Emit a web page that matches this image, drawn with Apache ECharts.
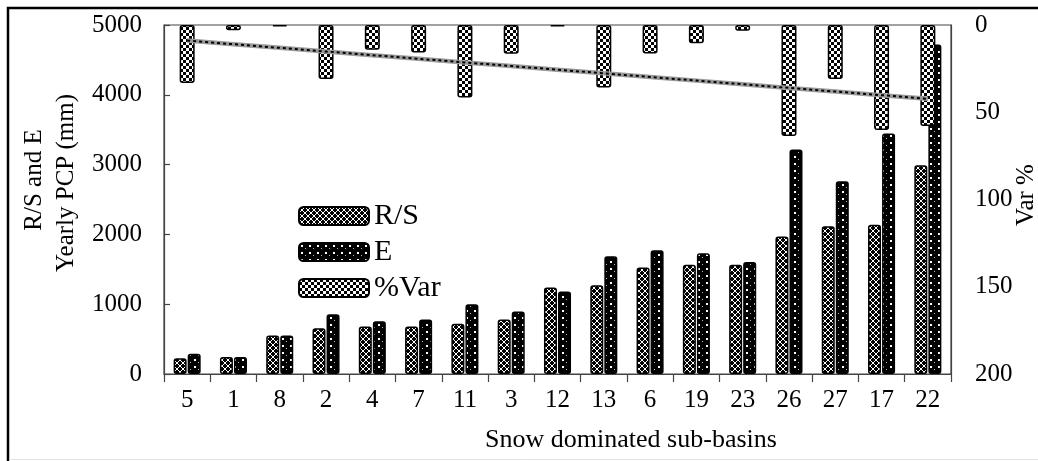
<!DOCTYPE html>
<html>
<head>
<meta charset="utf-8">
<script src="https://cdn.jsdelivr.net/npm/echarts@6/dist/echarts.min.js"></script>
<style>
  html, body { margin: 0; padding: 0; background: #fff; }
  #chart { width: 1038px; height: 461px; }
</style>
</head>
<body>
<div id="chart"></div>
<script>
// Sub-basins (snow dominated), in plotted order
const categories = ['5', '1', '8', '2', '4', '7', '11', '3', '12', '13', '6', '19', '23', '26', '27', '17', '22'];
// R/S (mm)
const rsValues = [225, 245, 550, 655, 680, 680, 720, 780, 1240, 1270, 1525, 1565, 1565, 1970, 2115, 2140, 2990];
// E (mm)
const eValues = [290, 245, 550, 855, 757, 780, 1000, 895, 1183, 1688, 1772, 1730, 1605, 3215, 2763, 3445, 4720];
// %Var (right axis, hanging from top)
const varValues = [33.3, 3, 0.8, 31, 14.2, 15.7, 41.6, 16.5, 0.8, 35.8, 16.3, 10.5, 3.3, 63.6, 31, 60.2, 57.9];

const leftTicks = { min: 0, max: 5000, interval: 1000 };
const rightTicks = { min: 0, max: 200, interval: 50 };

const FONT = 'Liberation Serif, Times New Roman, serif';

// Least-squares linear trend of %Var across the sub-basin order
function linearTrend(values) {
  const n = values.length;
  let sx = 0, sy = 0, sxx = 0, sxy = 0;
  values.forEach((y, x) => { sx += x; sy += y; sxx += x * x; sxy += x * y; });
  const slope = (n * sxy - sx * sy) / (n * sxx - sx * sx);
  const intercept = (sy - slope * sx) / n;
  return values.map((_, x) => +(intercept + slope * x).toFixed(3));
}
const varTrend = linearTrend(varValues);

// Monochrome fill patterns for the bars
function makeTile(w, h, draw) {
  const c = document.createElement('canvas');
  c.width = w; c.height = h;
  const g = c.getContext('2d');
  g.fillStyle = '#000';
  g.fillRect(0, 0, w, h);
  draw(g);
  return { image: c, repeat: 'repeat' };
}
// R/S: white diamond lattice on black
const rsPattern = makeTile(6, 6, g => {
  g.strokeStyle = '#fff';
  g.lineWidth = 1;
  g.beginPath();
  g.moveTo(0, 0); g.lineTo(6, 6);
  g.moveTo(6, 0); g.lineTo(0, 6);
  g.stroke();
});
// E: sparse white dots on black
const ePattern = makeTile(8, 7, g => {
  g.fillStyle = '#fff';
  g.fillRect(2, 2, 2, 2);
  g.fillStyle = '#bbb';
  g.fillRect(6, 5, 1, 1);
});
// %Var: checkerboard
const varPattern = makeTile(6, 6, g => {
  g.fillStyle = '#fff';
  g.fillRect(0, 0, 3, 3);
  g.fillRect(3, 3, 3, 3);
});

const barBorder = { borderColor: '#000', borderWidth: 1.5, borderRadius: 2 };

const chart = echarts.init(document.getElementById('chart'), null, { renderer: 'canvas' });

chart.setOption({
  animation: false,
  backgroundColor: '#fff',
  textStyle: { fontFamily: FONT, color: '#000' },
  grid: {
    left: 164, right: 87, top: 25, bottom: 87,
    show: true, borderColor: '#444', borderWidth: 1.2, backgroundColor: 'transparent'
  },
  legend: {
    data: ['R/S', 'E', '%Var'],
    orient: 'vertical',
    left: 298, top: 201,
    itemWidth: 70, itemHeight: 18, itemGap: 6,
    padding: 0,
    textStyle: { fontFamily: FONT, fontSize: 30, color: '#000', lineHeight: 30 }
  },
  xAxis: [
    {
      type: 'category', data: categories, position: 'bottom',
      axisLine: { lineStyle: { color: '#444', width: 1.2 } },
      axisTick: { show: true, length: 8, lineStyle: { color: '#444', width: 1.2 } },
      axisLabel: { fontFamily: FONT, fontSize: 25, color: '#000', margin: 14 }
    },
    {
      type: 'category', data: categories, show: false, gridIndex: 0
    }
  ],
  yAxis: [
    {
      type: 'value', position: 'left',
      min: leftTicks.min, max: leftTicks.max, interval: leftTicks.interval,
      axisLine: { show: true, lineStyle: { color: '#444', width: 1.2 } },
      axisTick: { show: true, inside: true, length: 6, lineStyle: { color: '#444', width: 1.2 } },
      axisLabel: { fontFamily: FONT, fontSize: 25, color: '#000', margin: 22, formatter: v => String(v) },
      splitLine: { show: false }
    },
    {
      type: 'value', position: 'right', inverse: true,
      min: rightTicks.min, max: rightTicks.max, interval: rightTicks.interval,
      axisLine: { show: true, lineStyle: { color: '#444', width: 1.2 } },
      axisTick: { show: false },
      axisLabel: { fontFamily: FONT, fontSize: 25, color: '#000', margin: 24, formatter: v => String(v) },
      splitLine: { show: false }
    }
  ],
  series: [
    {
      name: 'R/S', type: 'bar', xAxisIndex: 0, yAxisIndex: 0,
      data: rsValues, barWidth: 13, barGap: '8%',
      itemStyle: Object.assign({ color: rsPattern }, barBorder)
    },
    {
      name: 'E', type: 'bar', xAxisIndex: 0, yAxisIndex: 0,
      data: eValues, barWidth: 13, barGap: '8%',
      itemStyle: Object.assign({ color: ePattern }, barBorder)
    },
    {
      name: '%Var', type: 'bar', xAxisIndex: 1, yAxisIndex: 1,
      data: varValues, barWidth: 15, z: 3,
      itemStyle: Object.assign({ color: varPattern }, barBorder)
    },
    {
      name: 'trend-base', type: 'line', xAxisIndex: 1, yAxisIndex: 1,
      data: varTrend, symbol: 'none', z: 4, silent: true,
      lineStyle: { color: '#9a9a9a', width: 4.5 }
    },
    {
      name: 'trend-dash', type: 'line', xAxisIndex: 1, yAxisIndex: 1,
      data: varTrend, symbol: 'none', z: 5, silent: true,
      lineStyle: { color: '#000', width: 2, type: [3, 3] }
    }
  ],
  graphic: [
    {
      // outer frame: left and top edges visible, right and bottom run past the canvas
      type: 'polyline', silent: true,
      shape: { points: [[8, 470], [8, 8], [1045, 8]] },
      style: { fill: 'none', stroke: '#000', lineWidth: 2.5 }
    },
    {
      type: 'line', silent: true,
      shape: { x1: 9, y1: 459.5, x2: 1038, y2: 459.5 },
      style: { stroke: '#e2e2e2', lineWidth: 1 }
    },
    {
      type: 'text', x: 34, y: 180, rotation: Math.PI / 2, silent: true,
      style: { text: 'R/S and E', font: '25px ' + FONT, fill: '#000', textAlign: 'center', textVerticalAlign: 'middle' }
    },
    {
      type: 'text', x: 66, y: 183, rotation: Math.PI / 2, silent: true,
      style: { text: 'Yearly PCP (mm)', font: '25px ' + FONT, fill: '#000', textAlign: 'center', textVerticalAlign: 'middle' }
    },
    {
      type: 'text', x: 1026, y: 195, rotation: Math.PI / 2, silent: true,
      style: { text: 'Var %', font: '25px ' + FONT, fill: '#000', textAlign: 'center', textVerticalAlign: 'middle' }
    },
    {
      type: 'text', x: 631, y: 440, silent: true,
      style: { text: 'Snow dominated sub-basins', font: '26px ' + FONT, fill: '#000', textAlign: 'center', textVerticalAlign: 'middle' }
    }
  ]
});
</script>
</body>
</html>
